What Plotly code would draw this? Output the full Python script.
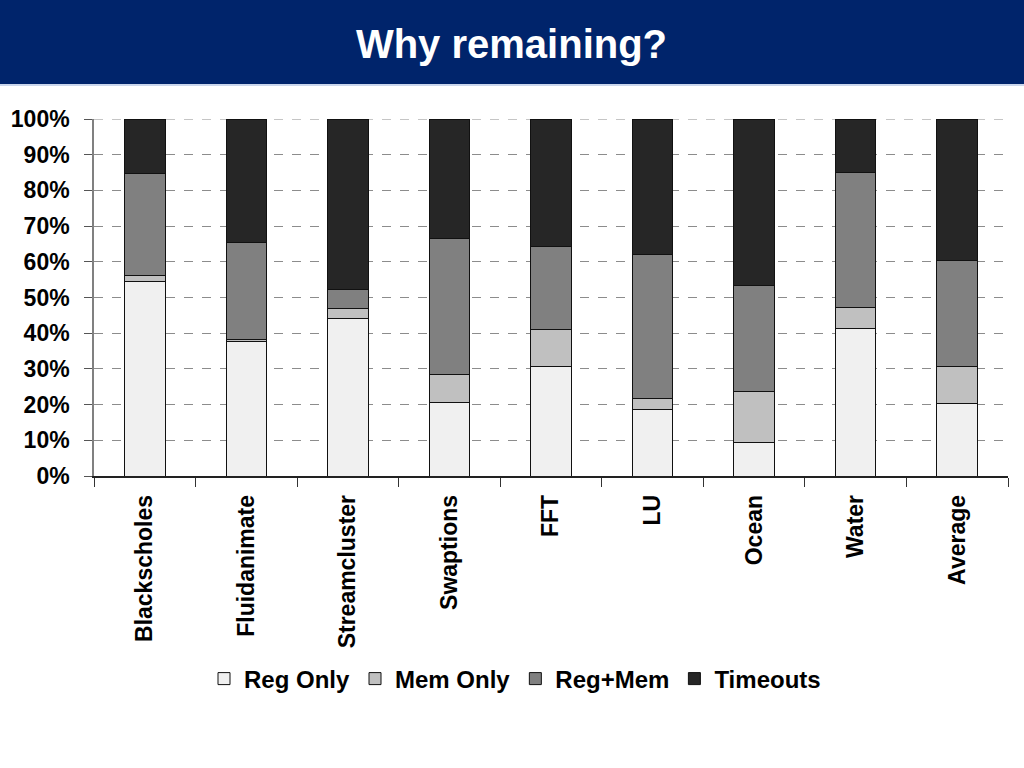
import plotly.graph_objects as go

categories = ["Blackscholes", "Fluidanimate", "Streamcluster", "Swaptions", "FFT", "LU", "Ocean", "Water", "Average"]
reg_only = [54.4, 37.6, 44.2, 20.7, 30.7, 18.5, 9.4, 41.2, 20.3]
mem_only = [1.9, 0.7, 2.7, 7.8, 10.3, 3.1, 14.2, 5.9, 10.4]
reg_mem = [28.3, 27.2, 5.3, 37.9, 23.4, 40.5, 29.9, 37.8, 29.8]
timeouts = [15.4, 34.5, 47.8, 33.6, 35.6, 37.9, 46.5, 15.1, 39.5]

series = [
    ("Reg Only", reg_only, "#f0f0f0"),
    ("Mem Only", mem_only, "#c0c0c0"),
    ("Reg+Mem", reg_mem, "#808080"),
    ("Timeouts", timeouts, "#262626"),
]

fig = go.Figure()
for name, vals, color in series:
    fig.add_trace(go.Bar(
        x=categories, y=vals, name=name,
        marker=dict(color=color, line=dict(color="#111111", width=1)),
    ))

W, H = 1024, 768
L, R, T, B = 94, 1008, 119, 476
def px_x(p):
    return (p - L) / (R - L)
def px_y(p):
    return (B - p) / (B - T)

FONT = "Arial, Liberation Sans, sans-serif"

fig.update_layout(
    width=W, height=H,
    barmode="stack", bargap=0.6,
    paper_bgcolor="white", plot_bgcolor="white",
    margin=dict(l=L, r=W - R, t=T, b=H - B, autoexpand=False),
    font=dict(family=FONT, color="black"),
    title=dict(text="<b>Why remaining?</b>", x=(511.5) / W, xref="container", xanchor="center",
               y=1 - 44 / H, yref="container", yanchor="middle",
               font=dict(size=40, color="white", family=FONT)),
    showlegend=True,
    legend=dict(orientation="h", x=px_x(515), xanchor="center", y=px_y(679), yanchor="middle",
                font=dict(size=24, weight="bold"), itemclick=False, traceorder="normal"),
    shapes=[
        dict(type="rect", xref="paper", yref="paper", x0=px_x(0), x1=px_x(W), y0=px_y(84), y1=px_y(0),
             fillcolor="#00246b", line=dict(width=0), layer="below"),
        dict(type="line", xref="paper", yref="paper", x0=px_x(0), x1=px_x(W), y0=px_y(85), y1=px_y(85),
             line=dict(color="#b8c8e6", width=1.5)),
        dict(type="line", xref="paper", yref="y", x0=0, x1=1, y0=100, y1=100, layer="below",
             line=dict(color="#8c8c8c", width=1, dash="dash")),
    ],
)

fig.update_yaxes(
    range=[0, 100], dtick=10, ticksuffix="%",
    showgrid=True, gridcolor="#8c8c8c", griddash="dash", gridwidth=1,
    showline=True, linecolor="#808080", linewidth=1.5,
    ticks="outside", ticklen=8, tickcolor="#555555",
    ticklabelstandoff=10,
    tickfont=dict(size=23, family=FONT, weight="bold"),
    zeroline=False,
)
fig.update_xaxes(
    tickangle=-90, ticks="outside", tickson="boundaries", ticklen=9, tickcolor="#333333",
    showline=True, linecolor="#222222", linewidth=1.5,
    ticklabelstandoff=8,
    tickfont=dict(size=23, family=FONT, weight="bold"),
)

fig.write_html("out.html", config={"displayModeBar": False},
               post_script="document.body.style.margin='0';document.body.style.overflow='hidden';")
